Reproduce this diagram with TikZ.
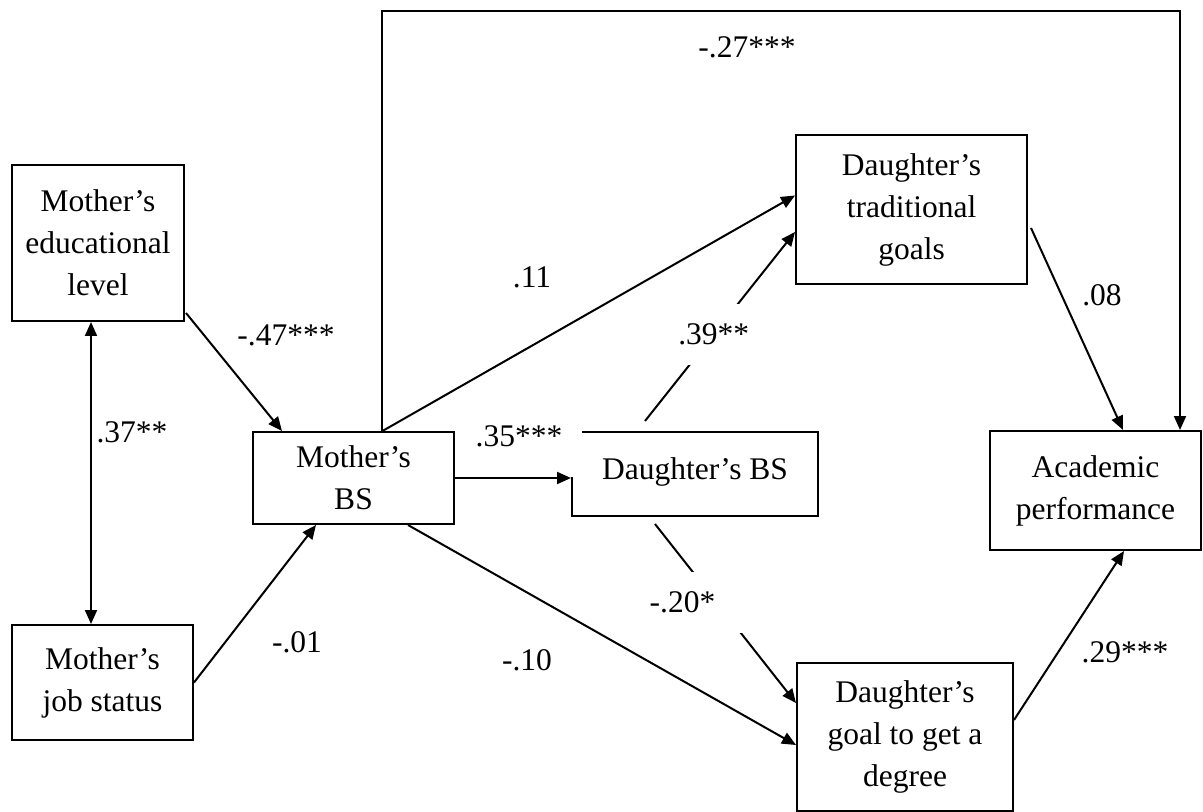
\documentclass[tikz,border=0pt]{standalone}
\usepackage{fontspec}
\setmainfont{Liberation Serif}
\usetikzlibrary{arrows.meta,calc}
\begin{document}
\begin{tikzpicture}[x=0.5pt,y=-0.5pt,
  txt/.style={font=\fontsize{15.75pt}{21pt}\selectfont},
  box/.style={txt,draw,line width=1pt,inner sep=0pt,align=center},
  lab/.style={txt,inner sep=0pt},
  arr/.style={line width=1pt,-{Triangle[length=7pt,width=6pt]}},
  darr/.style={line width=1pt,{Triangle[length=7pt,width=6pt]}-{Triangle[length=7pt,width=6pt]}},
]
\useasboundingbox (0,0) rectangle (1203,812);
% boxes
\node[box,minimum width=86pt,minimum height=78pt] (medu) at (98,243) {Mother’s\\educational\\level};
\node[box,minimum width=90.5pt,minimum height=57.5pt] (mjob) at (102.5,682.5) {Mother’s\\job status};
\node[box,minimum width=100.5pt,minimum height=46pt] (mbs) at (353.5,478) {Mother’s\\BS};
\node[box,minimum width=123pt,minimum height=42pt,label={[lab,anchor=base,yshift=1pt]center:Daughter’s BS}] (dbs) at (695,474) {};
\node[box,minimum width=115.5pt,minimum height=74.5pt] (trad) at (911.5,209.5) {Daughter’s\\traditional\\goals};
\node[box,minimum width=105.5pt,minimum height=59.5pt] (acad) at (1095.5,490.5) {Academic\\performance};
\node[box,minimum width=108pt,minimum height=74pt] (goal) at (905,737) {Daughter’s\\goal to get a\\degree};
\coordinate (topline) at (0,11);
% label covering corner of Daughter's BS
\node[lab,fill=white,minimum width=63pt,minimum height=41pt] (l35) at (519,436) {.35***};
% connectors
\draw[darr] ([xshift=-3.5pt]medu.south) -- ([xshift=-3.5pt]medu.south |- mjob.north);
\draw[arr] ([xshift=0.5pt,yshift=4.5pt]medu.south east) -- ([xshift=15pt]mbs.north west);
\draw[arr] (mjob.east) -- ([xshift=32pt]mbs.south west);
\draw[arr] ([xshift=14.5pt]mbs.north) -- ([yshift=7pt]trad.west);
\draw[arr] ([xshift=14.25pt]mbs.north) -- ([xshift=14.25pt]mbs.north |- topline) -| ([xshift=42.25pt]acad.north);
\draw[arr] (mbs.east) -- (mbs.east -| dbs.west);
\draw[arr] ([xshift=-23.5pt]mbs.south east) -- ([yshift=-4pt]goal.west);
\draw[arr] ([xshift=-25pt,yshift=5pt]dbs.north) -- node[lab,fill=white,minimum height=30.5pt,pos=0.458] (l39) {.39**} ([yshift=-11.25pt]trad.west);
\draw[arr] ([xshift=-20pt,yshift=-3.5pt]dbs.south) -- node[lab,fill=white,minimum height=30.5pt,pos=0.436] (l20) {-.20*\hspace*{34pt}} ([yshift=17pt]goal.west);
\draw[arr] ([xshift=1.5pt,yshift=-9.25pt]trad.east) -- ([xshift=13.75pt]acad.north);
\draw[arr] ([yshift=8.5pt]goal.east) -- ([xshift=14.25pt]acad.south);
% labels
\node[lab] (l37) at (132,432) {.37**};
\node[lab] (l47) at (286,335) {-.47***};
\node[lab] (l01) at (297,642) {-.01};
\node[lab] (l11) at (532,277) {.11};
\node[lab] (l10) at (527,660) {-.10};
\node[lab] (l27) at (747,47) {-.27***};
\node[lab] (l08) at (1102,295) {.08};
\node[lab] (l29) at (1125,652) {.29***};
\end{tikzpicture}
\end{document}
